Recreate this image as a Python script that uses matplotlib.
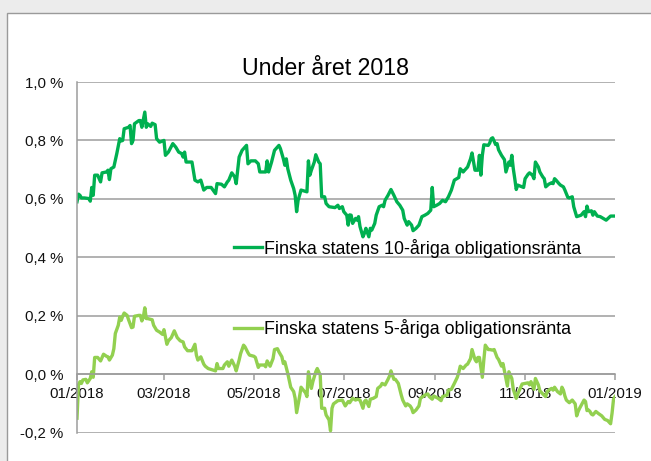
import matplotlib
matplotlib.use("Agg")
import matplotlib.pyplot as plt
import matplotlib.dates as mdates
import matplotlib.ticker as mticker
import pandas as pd
from matplotlib.patches import Rectangle

plt.rcParams['font.family'] = ['Liberation Sans', 'DejaVu Sans']

TITLE = "Under året 2018"
LABEL_10 = "Finska statens 10-åriga obligationsränta"
LABEL_5 = "Finska statens 5-åriga obligationsränta"

# day of year (0 = 1 Jan 2018) and yield in %
ten_days = [
    0, 1, 2, 3, 5, 8, 9, 10, 11, 12,
    14, 16, 17, 20, 21, 22, 23, 25, 27, 29,
    30, 31, 32, 35, 36, 37, 38, 39, 42, 43,
    44, 46, 47, 48, 50, 51, 53, 54, 56, 59,
    60, 62, 65, 67, 69, 71, 72, 73, 74, 78,
    80, 82, 84, 86, 88, 91, 94, 95, 98, 100,
    102, 103, 105, 107, 108, 110, 112, 114, 115, 116,
    118, 121, 123, 124, 128, 129, 130, 132, 134, 137,
    138, 140, 141, 142, 143, 145, 147, 148, 149, 150,
    152, 156, 157, 158, 159, 161, 162, 164, 165, 166,
    168, 169, 171, 175, 177, 178, 180, 181, 183, 184,
    185, 186, 187, 189, 190, 191, 192, 194, 195, 196,
    198, 199, 200, 202, 203, 205, 207, 208, 209, 211,
    213, 215, 217, 219, 221, 222, 224, 225, 227, 228,
    230, 232, 234, 236, 238, 240, 241, 242, 244, 246,
    248, 250, 252, 254, 256, 259, 260, 262, 263, 265,
    267, 268, 270, 272, 273, 274, 275, 276, 279, 280,
    281, 282, 284, 285, 286, 288, 290, 291, 293, 294,
    295, 296, 297, 298, 299, 301, 303, 304, 306, 307,
    309, 310, 311, 313, 314, 316, 317, 318, 320, 322,
    323, 324, 325, 327, 328, 330, 331, 333, 334, 336,
    337, 339, 342, 344, 345, 346, 347, 349, 350, 351,
    353, 355, 357, 359, 362, 364,
]
ten_vals = [
    0.590, 0.616, 0.612, 0.603, 0.603, 0.601, 0.592, 0.639, 0.612, 0.681,
    0.681, 0.658, 0.689, 0.692, 0.698, 0.666, 0.703, 0.709, 0.755, 0.806,
    0.798, 0.800, 0.840, 0.845, 0.851, 0.789, 0.800, 0.857, 0.868, 0.868,
    0.845, 0.897, 0.845, 0.857, 0.848, 0.859, 0.854, 0.806, 0.794, 0.800,
    0.749, 0.760, 0.789, 0.777, 0.760, 0.755, 0.743, 0.760, 0.726, 0.726,
    0.664, 0.658, 0.664, 0.630, 0.639, 0.639, 0.618, 0.652, 0.650, 0.641,
    0.658, 0.664, 0.689, 0.675, 0.652, 0.743, 0.766, 0.777, 0.783, 0.720,
    0.730, 0.730, 0.720, 0.692, 0.692, 0.730, 0.692, 0.726, 0.766, 0.783,
    0.772, 0.737, 0.715, 0.737, 0.703, 0.664, 0.635, 0.612, 0.556, 0.595,
    0.630, 0.624, 0.730, 0.681, 0.698, 0.726, 0.751, 0.726, 0.720, 0.607,
    0.607, 0.584, 0.573, 0.570, 0.578, 0.567, 0.573, 0.556, 0.544, 0.510,
    0.545, 0.544, 0.516, 0.533, 0.527, 0.539, 0.505, 0.470, 0.482, 0.499,
    0.470, 0.499, 0.493, 0.516, 0.544, 0.573, 0.578, 0.573, 0.595, 0.612,
    0.632, 0.612, 0.590, 0.578, 0.561, 0.533, 0.510, 0.522, 0.510, 0.491,
    0.499, 0.510, 0.539, 0.544, 0.550, 0.561, 0.639, 0.573, 0.578, 0.584,
    0.595, 0.590, 0.607, 0.630, 0.664, 0.673, 0.703, 0.692, 0.698, 0.709,
    0.737, 0.757, 0.698, 0.698, 0.749, 0.681, 0.749, 0.785, 0.783, 0.791,
    0.806, 0.809, 0.786, 0.789, 0.768, 0.749, 0.734, 0.692, 0.726, 0.715,
    0.749, 0.703, 0.669, 0.632, 0.647, 0.643, 0.639, 0.669, 0.684, 0.689,
    0.681, 0.669, 0.726, 0.709, 0.692, 0.675, 0.669, 0.641, 0.650, 0.655,
    0.652, 0.669, 0.664, 0.652, 0.647, 0.641, 0.630, 0.605, 0.603, 0.607,
    0.573, 0.539, 0.544, 0.556, 0.539, 0.575, 0.556, 0.559, 0.544, 0.556,
    0.541, 0.539, 0.533, 0.527, 0.541, 0.541,
]

five_days = [
    0, 1, 2, 3, 4, 6, 7, 9, 10, 11,
    12, 14, 16, 18, 20, 21, 22, 24, 25, 26,
    28, 29, 30, 31, 32, 34, 35, 37, 38, 39,
    42, 43, 44, 45, 46, 47, 48, 51, 52, 54,
    56, 58, 59, 61, 62, 64, 66, 68, 70, 72,
    73, 75, 78, 80, 81, 82, 84, 86, 87, 89,
    92, 94, 95, 96, 99, 100, 102, 103, 105, 107,
    108, 110, 111, 113, 114, 116, 117, 120, 121, 123,
    124, 127, 128, 129, 131, 133, 134, 136, 137, 139,
    140, 141, 143, 145, 147, 148, 149, 151, 152, 155,
    156, 157, 159, 160, 162, 163, 165, 166, 168, 169,
    171, 172, 173, 174, 177, 180, 182, 184, 185, 187,
    189, 190, 192, 194, 195, 196, 198, 199, 201, 203,
    204, 206, 207, 209, 211, 212, 213, 215, 216, 218,
    220, 221, 223, 224, 226, 227, 228, 230, 232, 233,
    236, 238, 239, 241, 242, 245, 247, 248, 251, 252,
    254, 256, 258, 259, 260, 262, 264, 265, 267, 268,
    270, 271, 272, 273, 275, 276, 277, 279, 280, 282,
    283, 285, 286, 288, 289, 290, 292, 293, 295, 296,
    298, 299, 301, 302, 304, 306, 307, 308, 310, 311,
    313, 314, 316, 318, 319, 320, 322, 323, 324, 326,
    328, 329, 330, 331, 332, 334, 336, 338, 339, 340,
    341, 343, 344, 345, 346, 347, 348, 349, 350, 352,
    354, 356, 358, 360, 362, 363, 364, 365,
]
five_vals = [
    -0.151, -0.037, -0.026, -0.032, -0.020, -0.018, -0.030, -0.015, 0.008, -0.011,
    0.057, 0.057, 0.045, 0.068, 0.061, 0.059, 0.048, 0.065, 0.087, 0.139,
    0.167, 0.195, 0.184, 0.198, 0.209, 0.201, 0.186, 0.159, 0.161, 0.198,
    0.201, 0.201, 0.182, 0.195, 0.227, 0.190, 0.190, 0.186, 0.167, 0.150,
    0.144, 0.136, 0.152, 0.102, 0.114, 0.125, 0.148, 0.125, 0.114, 0.110,
    0.093, 0.080, 0.080, 0.102, 0.065, 0.048, 0.059, 0.034, 0.027, 0.019,
    0.014, 0.011, 0.036, 0.019, 0.019, 0.031, 0.042, 0.027, 0.048, 0.027,
    0.011, 0.048, 0.070, 0.099, 0.093, 0.073, 0.065, 0.061, 0.057, 0.023,
    0.031, 0.031, 0.025, 0.045, 0.027, 0.053, 0.084, 0.087, 0.076, 0.059,
    0.036, 0.042, 0.002, -0.045, -0.060, -0.083, -0.132, -0.077, -0.045, -0.064,
    -0.077, 0.008, -0.049, -0.026, 0.008, 0.019, -0.003, -0.117, -0.117, -0.140,
    -0.157, -0.194, -0.117, -0.102, -0.091, -0.089, -0.109, -0.094, -0.098, -0.083,
    -0.089, -0.086, -0.089, -0.117, -0.094, -0.089, -0.111, -0.086, -0.083, -0.077,
    -0.049, -0.041, -0.032, -0.037, -0.018, -0.007, 0.011, -0.018, -0.018, -0.032,
    -0.072, -0.089, -0.109, -0.102, -0.109, -0.117, -0.132, -0.123, -0.109, -0.083,
    -0.072, -0.068, -0.077, -0.086, -0.075, -0.083, -0.091, -0.077, -0.072, -0.055,
    -0.052, -0.032, -0.011, 0.005, 0.027, 0.019, 0.031, 0.034, 0.053, 0.084,
    0.050, 0.042, 0.057, 0.057, -0.011, 0.048, 0.099, 0.084, 0.084, 0.082,
    0.084, 0.057, 0.050, 0.027, 0.036, 0.011, -0.041, 0.008, -0.015, -0.052,
    -0.083, -0.068, -0.045, -0.034, -0.032, -0.030, -0.037, -0.026, -0.052, -0.015,
    -0.037, -0.057, -0.068, -0.077, -0.060, -0.055, -0.049, -0.055, -0.045, -0.060,
    -0.068, -0.045, -0.055, -0.075, -0.089, -0.098, -0.089, -0.102, -0.143, -0.128,
    -0.117, -0.098, -0.089, -0.094, -0.125, -0.123, -0.128, -0.137, -0.140, -0.128,
    -0.136, -0.143, -0.155, -0.159, -0.170, -0.134, -0.086, -0.077,
]

y_ticks = [-0.2, 0.0, 0.2, 0.4, 0.6, 0.8, 1.0]
tick_months = [1, 3, 5, 7, 9, 11]

assert len(ten_days) == len(ten_vals)
assert len(five_days) == len(five_vals)

start = pd.Timestamp("2018-01-01")
end = pd.Timestamp("2019-01-01")
ten_dates = start + pd.to_timedelta(ten_days, unit="D")
five_dates = start + pd.to_timedelta(five_days, unit="D")

W, H = 651, 461
fig = plt.figure(figsize=(W / 100, H / 100), dpi=100)
fig.patch.set_facecolor('#ececec')
# white chart area with a thin frame on top and left
fig.patches.append(Rectangle((7 / W, -0.05), 1.0, 1.05 - 13 / H, transform=fig.transFigure,
                             facecolor='white', edgecolor='#9a9a9a', lw=1.0, zorder=-5))

ax = fig.add_axes([77 / W, 1 - 432.5 / H, (615 - 77) / W, (432.5 - 82) / H])
ax.patch.set_alpha(0)

grid_c = '#9c9c9c'
l10, = ax.plot(ten_dates, ten_vals, color='#00B050', lw=2.4, solid_joinstyle='round')
l5, = ax.plot(five_dates, five_vals, color='#92D050', lw=2.4, solid_joinstyle='round')

ax.set_ylim(-0.2, 1.0)
ax.set_yticks(y_ticks)
ax.yaxis.set_major_formatter(mticker.FuncFormatter(
    lambda v, p: ("%.1f %%" % (0.0 if abs(v) < 1e-9 else v)).replace('.', ',')))
ax.yaxis.grid(True, color=grid_c, lw=1.1)
ax.set_axisbelow(True)

ax.set_xlim(start, end)
ax.xaxis.set_major_locator(mdates.MonthLocator(bymonth=tick_months))
ax.xaxis.set_major_formatter(mdates.DateFormatter('%m/%Y'))

for s in ['top', 'right']:
    ax.spines[s].set_visible(False)
ax.spines['left'].set_color(grid_c)
ax.spines['left'].set_linewidth(1.1)
ax.spines['bottom'].set_position(('data', 0))
ax.spines['bottom'].set_color(grid_c)
ax.spines['bottom'].set_linewidth(1.1)

ax.tick_params(axis='y', length=0, pad=10, labelsize=10.8, labelcolor='#111111')
ax.tick_params(axis='x', length=4, width=1.1, color=grid_c, pad=5, labelsize=10.8,
               labelcolor='#111111')

leg_kw = dict(loc='center left', bbox_transform=fig.transFigure, frameon=False,
              fontsize=12.9, handlelength=1.55, handletextpad=0.15,
              borderpad=0, borderaxespad=0)
leg1 = ax.legend([l10], [LABEL_10], bbox_to_anchor=(234 / W, 1 - 248 / H), **leg_kw)
ax.add_artist(leg1)
ax.legend([l5], [LABEL_5], bbox_to_anchor=(234 / W, 1 - 329 / H), **leg_kw)

fig.text(325 / W, 1 - 75 / H, TITLE, ha='center', va='baseline', fontsize=16.7)

fig.savefig('out.png', dpi=100, facecolor=fig.get_facecolor())
